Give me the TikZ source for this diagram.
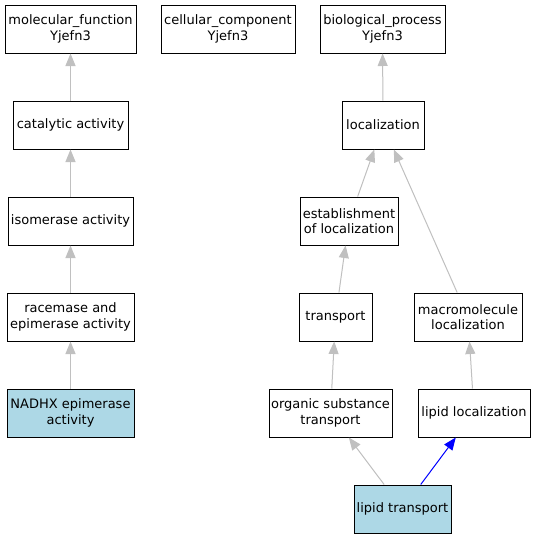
\documentclass[tikz,border=0pt]{standalone}
\usepackage{fontspec}
\setmainfont{DejaVu Sans}
\usetikzlibrary{arrows.meta}
\definecolor{lb}{HTML}{ADD8E6}
\definecolor{eg}{HTML}{C0C0C0}
\begin{document}
\begin{tikzpicture}[x=1pt,y=-1pt,
  box/.style={draw=black,line width=1pt,inner sep=0pt,minimum height=48pt,align=center,font=\fontsize{13}{15.5}\selectfont,fill=white},
  hl/.style={fill=lb},
  isa/.style={draw=eg,line width=1pt,-{Triangle[length=12.5pt,width=10pt]}},
  part/.style={draw=blue,line width=1pt,-{Triangle[length=12.5pt,width=10pt]}}]
\useasboundingbox (0,0) rectangle (536,539);
\fill[white] (0,0) rectangle (536,539);
\node[box,minimum width=131pt] (mf) at (70.5,29) {molecular\_function\\Yjefn3};
\node[box,minimum width=134pt] (cc) at (228,29) {cellular\_component\\Yjefn3};
\node[box,minimum width=125pt] (bp) at (382.5,29) {biological\_process\\Yjefn3};
\node[box,minimum width=115pt] (cat) at (70.5,125) {catalytic activity};
\node[box,minimum width=82pt] (loc) at (383,125) {localization};
\node[box,minimum width=125pt] (iso) at (70.5,221) {isomerase activity};
\node[box,minimum width=98pt] (est) at (349,221) {establishment\\of localization};
\node[box,minimum width=127pt] (rac) at (70.5,317) {racemase and\\epimerase activity};
\node[box,minimum width=73pt] (tr) at (335.5,317) {transport};
\node[box,minimum width=108pt] (mac) at (468,317) {macromolecule\\localization};
\node[box,hl,minimum width=127pt] (nadhx) at (70.5,413) {NADHX epimerase\\activity};
\node[box,minimum width=123pt] (org) at (330.5,413) {organic substance\\transport};
\node[box,minimum width=112pt] (lloc) at (474,413) {lipid localization};
\node[box,hl,minimum width=97pt] (lt) at (402.5,509) {lipid transport};
\draw[isa] (cat) -- (mf);
\draw[isa] (iso) -- (cat);
\draw[isa] (rac) -- (iso);
\draw[isa] (nadhx) -- (rac);
\draw[isa] (loc) -- (bp);
\draw[isa] (est) -- (loc);
\draw[isa] (mac) -- (loc);
\draw[isa] (tr) -- (est);
\draw[isa] (org) -- (tr);
\draw[isa] (lloc) -- (mac);
\draw[isa] (lt) -- (org);
\draw[part] (lt) -- (lloc);
\end{tikzpicture}
\end{document}
